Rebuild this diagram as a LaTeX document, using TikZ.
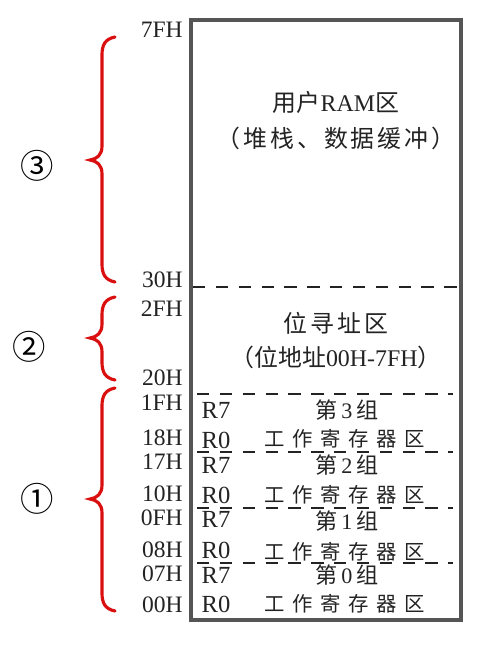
\documentclass[tikz,border=0pt]{standalone}
\usepackage{fontspec}
\setmainfont{Liberation Serif}
\newfontfamily\cjk{Noto Sans CJK SC}
\definecolor{bracered}{RGB}{218,16,16}
\definecolor{boxgray}{RGB}{85,85,85}
\definecolor{ink}{RGB}{35,35,35}
\newcommand\gapa{\hspace{4.3pt}}
\newcommand\gapb{\hspace{1.7pt}}
\newcommand\gapc{\hspace{2.4pt}}
\newcommand\redbrace[3]{%
  \draw[bracestyle] (115,#1) .. controls (105,#1+2) and (102,#1+8) .. (102,#1+18)
    -- (102,#2-14) .. controls (102,#2-5) and (97,#2-1) .. (90,#2)
    .. controls (97,#2+1) and (102,#2+5) .. (102,#2+14)
    -- (102,#3-18) .. controls (102,#3-8) and (105,#3-2) .. (115,#3);}
\begin{document}
\begin{tikzpicture}[x=0.02cm,y=-0.02cm,
  hexl/.style={anchor=east,inner sep=0pt,text=ink,font=\fontsize{13.4}{13.4}\selectfont},
  regl/.style={inner sep=0pt,text=ink,font=\fontsize{14}{14}\selectfont},
  bigtxt/.style={inner sep=0pt,text=ink,font=\fontsize{13.6}{13.6}\selectfont},
  grptitle/.style={inner sep=0pt,text=ink,font=\fontsize{12.6}{12.6}\selectfont},
  grptxt/.style={inner sep=0pt,text=ink,font=\fontsize{11.6}{11.6}\selectfont},
  circnum/.style={inner sep=0pt,text=black,font=\fontsize{19}{19}\selectfont\cjk},
  boxline/.style={draw=boxgray,line width=2pt},
  dashline/.style={draw=ink,line width=1.4pt,dash pattern=on 7 off 6},
  bracestyle/.style={draw=bracered,line width=1.8pt,line cap=round}]
\useasboundingbox (0,0) rectangle (500,649);
% memory block
\draw[boxline] (191,20) rectangle (461,620);
\draw[dashline] (193,287) -- (458,287);
\draw[dashline] (197,394) -- (453,394);
\draw[dashline] (197,452) -- (453,452);
\draw[dashline] (197,508) -- (453,508);
\draw[dashline] (197,563) -- (453,563);
% address labels
\node[hexl] (a7F) at (183,30) {7FH};
\node[hexl] (a30) at (183,280) {30H};
\node[hexl] (a2F) at (183,309) {2FH};
\node[hexl] (a20) at (183,378) {20H};
\node[hexl] (a1F) at (183,403) {1FH};
\node[hexl] (a18) at (183,438) {18H};
\node[hexl] (a17) at (183,462) {17H};
\node[hexl] (a10) at (183,494) {10H};
\node[hexl] (a0F) at (183,518) {0FH};
\node[hexl] (a08) at (183,550) {08H};
\node[hexl] (a07) at (183,574) {07H};
\node[hexl] (a00) at (183,605) {00H};
% user RAM area
\node[bigtxt] (ram) at (336,102) {{\cjk 用户}RAM{\cjk 区}};
\node[bigtxt] (ramsub) at (336,138) {\cjk （\gapb 堆\gapb 栈\gapb 、\gapb 数\gapb 据\gapb 缓\gapb 冲\gapb ）};
% bit-addressable area
\node[bigtxt] (bit) at (336,323) {\cjk 位\gapb 寻\gapb 址\gapb 区};
\node[bigtxt] (bitsub) at (336,357) {{\cjk （位地址}00H-7FH{\cjk ）}};
% register banks
\node[regl] (r7c) at (216,410) {R7};
\node[regl] (r0c) at (216,440) {R0};
\node[grptitle] (g3) at (347,410) {{\cjk 第}\gapc 3\gapc{\cjk 组}};
\node[grptxt] (w3) at (345,439) {\cjk 工\gapa 作\gapa 寄\gapa 存\gapa 器\gapa 区};
\node[regl] (r7b) at (216,465) {R7};
\node[regl] (r0b) at (216,495) {R0};
\node[grptitle] (g2) at (347,465) {{\cjk 第}\gapc 2\gapc{\cjk 组}};
\node[grptxt] (w2) at (345,495) {\cjk 工\gapa 作\gapa 寄\gapa 存\gapa 器\gapa 区};
\node[regl] (r7a) at (216,519) {R7};
\node[regl] (r0a) at (216,550) {R0};
\node[grptitle] (g1) at (347,521) {{\cjk 第}\gapc 1\gapc{\cjk 组}};
\node[grptxt] (w1) at (345,552) {\cjk 工\gapa 作\gapa 寄\gapa 存\gapa 器\gapa 区};
\node[regl] (r7z) at (216,575) {R7};
\node[regl] (r0z) at (216,604) {R0};
\node[grptitle] (g0) at (347,575) {{\cjk 第}\gapc 0\gapc{\cjk 组}};
\node[grptxt] (w0) at (345,604) {\cjk 工\gapa 作\gapa 寄\gapa 存\gapa 器\gapa 区};
% braces and numbers
\redbrace{37}{160}{282}
\redbrace{297}{338}{380}
\redbrace{388}{499}{611}
\node[circnum] (n3) at (37,166) {③};
\node[circnum] (n2) at (29,347) {②};
\node[circnum] (n1) at (37,499) {①};
\end{tikzpicture}
\end{document}
